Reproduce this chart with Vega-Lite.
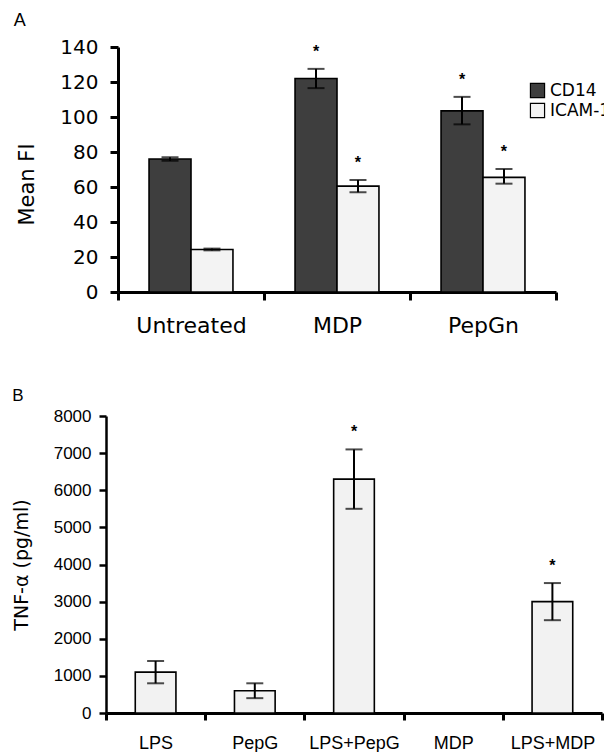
{
  "$schema": "https://vega.github.io/schema/vega-lite/v6.json",
  "padding": {"left": 12, "top": 12, "right": 0, "bottom": 0},
  "spacing": 51,
  "config": {
    "view": {"stroke": null},
    "axis": {"domainColor": "black", "tickColor": "black", "labelColor": "black", "titleColor": "black", "grid": false, "labelOverlap": false},
    "axisY": {"labelOverlap": false},
    "axisQuantitative": {"labelOverlap": false}
  },
  "vconcat": [
    {
      "title": {"text": "A", "anchor": "start", "frame": "bounds", "fontSize": 18, "font": "Liberation Sans", "fontWeight": "normal", "offset": 7, "dx": -3},
      "width": 450,
      "height": 245,
      "data": {"values": [
        {"treatment": "Untreated", "marker": "CD14", "value": 76, "lo": 75, "hi": 77, "star": ""},
        {"treatment": "Untreated", "marker": "ICAM-1", "value": 24.3, "lo": 23.8, "hi": 24.8, "star": ""},
        {"treatment": "MDP", "marker": "CD14", "value": 122, "lo": 116.5, "hi": 127.5, "star": "*"},
        {"treatment": "MDP", "marker": "ICAM-1", "value": 60.5, "lo": 57, "hi": 64, "star": "*"},
        {"treatment": "PepGn", "marker": "CD14", "value": 103.5, "lo": 95.8, "hi": 111.5, "star": "*"},
        {"treatment": "PepGn", "marker": "ICAM-1", "value": 65.5, "lo": 61.9, "hi": 70.3, "star": "*"}
      ]},
      "encoding": {
        "x": {"field": "treatment", "type": "nominal", "sort": ["Untreated", "MDP", "PepGn"],
          "scale": {"range": [12, 450], "paddingInner": 0, "paddingOuter": 0},
          "axis": {"title": null, "labelAngle": 0, "tickBand": "extent", "tickSize": 8, "tickWidth": 3, "domainWidth": 3,
            "labelFont": "DejaVu Sans", "labelFontSize": 22, "labelPadding": 15}},
        "xOffset": {"field": "marker", "type": "nominal", "sort": ["CD14", "ICAM-1"], "scale": {"paddingInner": 0, "paddingOuter": 0.74}}
      },
      "layer": [
        {
          "mark": {"type": "bar", "stroke": "black", "strokeWidth": 1.6},
          "encoding": {
            "y": {"field": "value", "type": "quantitative",
              "scale": {"domain": [0, 140], "nice": false},
              "axis": {"title": "Mean FI", "offset": -12, "values": [0, 20, 40, 60, 80, 100, 120, 140], "labelOverlap": false, "tickSize": 8, "tickWidth": 3, "domainWidth": 3,
                "labelFont": "DejaVu Sans", "labelFontSize": 20, "labelPadding": 12,
                "titleFont": "DejaVu Sans", "titleFontSize": 21, "titleFontWeight": "normal", "titlePadding": 22, "titleY": 137}},
            "color": {"field": "marker", "type": "nominal",
              "scale": {"domain": ["CD14", "ICAM-1"], "range": ["#3e3e3e", "#f3f3f3"]},
              "legend": {"title": null, "orient": "none", "legendX": 423, "legendY": 35, "padding": 0,
                "symbolType": "square", "symbolSize": 200, "symbolStrokeColor": "black", "symbolStrokeWidth": 1.2,
                "labelFont": "DejaVu Sans", "labelFontSize": 17, "labelColor": "black", "labelOffset": 4, "rowPadding": 1, "labelLimit": 0}}
          }
        },
        {
          "mark": {"type": "rule", "color": "black", "strokeWidth": 2},
          "encoding": {
            "y": {"field": "lo", "type": "quantitative",
              "axis": {"title": "Mean FI", "offset": -12, "values": [0, 20, 40, 60, 80, 100, 120, 140], "labelOverlap": false, "tickSize": 8, "tickWidth": 3, "domainWidth": 3,
                "labelFont": "DejaVu Sans", "labelFontSize": 20, "labelPadding": 12,
                "titleFont": "DejaVu Sans", "titleFontSize": 21, "titleFontWeight": "normal", "titlePadding": 22, "titleY": 137}},
            "y2": {"field": "hi"}}
        },
        {
          "mark": {"type": "tick", "color": "black", "thickness": 2, "size": 17},
          "encoding": {"y": {"field": "hi", "type": "quantitative",
              "axis": {"title": "Mean FI", "offset": -12, "values": [0, 20, 40, 60, 80, 100, 120, 140], "labelOverlap": false, "tickSize": 8, "tickWidth": 3, "domainWidth": 3,
                "labelFont": "DejaVu Sans", "labelFontSize": 20, "labelPadding": 12,
                "titleFont": "DejaVu Sans", "titleFontSize": 21, "titleFontWeight": "normal", "titlePadding": 22, "titleY": 137}}}
        },
        {
          "mark": {"type": "tick", "color": "black", "thickness": 2, "size": 17},
          "encoding": {"y": {"field": "lo", "type": "quantitative",
              "axis": {"title": "Mean FI", "offset": -12, "values": [0, 20, 40, 60, 80, 100, 120, 140], "labelOverlap": false, "tickSize": 8, "tickWidth": 3, "domainWidth": 3,
                "labelFont": "DejaVu Sans", "labelFontSize": 20, "labelPadding": 12,
                "titleFont": "DejaVu Sans", "titleFontSize": 21, "titleFontWeight": "normal", "titlePadding": 22, "titleY": 137}}}
        },
        {
          "mark": {"type": "text", "color": "black", "font": "Liberation Sans", "fontSize": 16, "fontWeight": "bold", "baseline": "alphabetic", "dy": -12},
          "encoding": {"y": {"field": "hi", "type": "quantitative",
              "axis": {"title": "Mean FI", "offset": -12, "values": [0, 20, 40, 60, 80, 100, 120, 140], "labelOverlap": false, "tickSize": 8, "tickWidth": 3, "domainWidth": 3,
                "labelFont": "DejaVu Sans", "labelFontSize": 20, "labelPadding": 12,
                "titleFont": "DejaVu Sans", "titleFontSize": 21, "titleFontWeight": "normal", "titlePadding": 22, "titleY": 137}},
            "text": {"field": "star"}}
        }
      ]
    },
    {
      "title": {"text": "B", "anchor": "start", "frame": "bounds", "fontSize": 17, "font": "Liberation Sans", "fontWeight": "normal", "offset": 2},
      "width": 496,
      "height": 297,
      "data": {"values": [
        {"treatment": "LPS", "value": 1100, "lo": 800, "hi": 1400, "star": ""},
        {"treatment": "PepG", "value": 600, "lo": 400, "hi": 800, "star": ""},
        {"treatment": "LPS+PepG", "value": 6300, "lo": 5500, "hi": 7100, "star": "*"},
        {"treatment": "MDP", "value": null, "lo": null, "hi": null, "star": ""},
        {"treatment": "LPS+MDP", "value": 3000, "lo": 2500, "hi": 3500, "star": "*"}
      ]},
      "encoding": {
        "x": {"field": "treatment", "type": "nominal", "sort": ["LPS", "PepG", "LPS+PepG", "MDP", "LPS+MDP"],
          "scale": {"domain": ["LPS", "PepG", "LPS+PepG", "MDP", "LPS+MDP"], "paddingInner": 0, "paddingOuter": 0},
          "axis": {"title": null, "labelAngle": 0, "tickBand": "extent", "tickSize": 7, "tickWidth": 3, "domainWidth": 3,
            "labelFont": "Liberation Sans", "labelFontSize": 18, "labelPadding": 14}}
      },
      "layer": [
        {
          "mark": {"type": "bar", "stroke": "black", "strokeWidth": 1.6, "fill": "#f2f2f2", "width": {"band": 0.41}},
          "encoding": {
            "y": {"field": "value", "type": "quantitative",
              "scale": {"domain": [0, 8000], "nice": false},
              "axis": {"title": "TNF-α (pg/ml)", "values": [0, 1000, 2000, 3000, 4000, 5000, 6000, 7000, 8000], "labelOverlap": false, "format": "d", "tickSize": 7, "tickWidth": 2.5, "domainWidth": 2.5,
                "labelFont": "Liberation Sans", "labelFontSize": 17, "labelPadding": 8,
                "titleFont": "DejaVu Sans", "titleFontSize": 19, "titleFontWeight": "normal", "titlePadding": 22}}
          }
        },
        {
          "mark": {"type": "rule", "color": "black", "strokeWidth": 2},
          "encoding": {
            "y": {"field": "lo", "type": "quantitative",
              "axis": {"title": "TNF-α (pg/ml)", "values": [0, 1000, 2000, 3000, 4000, 5000, 6000, 7000, 8000], "labelOverlap": false, "format": "d", "tickSize": 7, "tickWidth": 2.5, "domainWidth": 2.5,
                "labelFont": "Liberation Sans", "labelFontSize": 17, "labelPadding": 8,
                "titleFont": "DejaVu Sans", "titleFontSize": 19, "titleFontWeight": "normal", "titlePadding": 22}},
            "y2": {"field": "hi"}}
        },
        {
          "mark": {"type": "tick", "color": "black", "thickness": 2, "size": 17},
          "encoding": {"y": {"field": "hi", "type": "quantitative",
              "axis": {"title": "TNF-α (pg/ml)", "values": [0, 1000, 2000, 3000, 4000, 5000, 6000, 7000, 8000], "labelOverlap": false, "format": "d", "tickSize": 7, "tickWidth": 2.5, "domainWidth": 2.5,
                "labelFont": "Liberation Sans", "labelFontSize": 17, "labelPadding": 8,
                "titleFont": "DejaVu Sans", "titleFontSize": 19, "titleFontWeight": "normal", "titlePadding": 22}}}
        },
        {
          "mark": {"type": "tick", "color": "black", "thickness": 2, "size": 17},
          "encoding": {"y": {"field": "lo", "type": "quantitative",
              "axis": {"title": "TNF-α (pg/ml)", "values": [0, 1000, 2000, 3000, 4000, 5000, 6000, 7000, 8000], "labelOverlap": false, "format": "d", "tickSize": 7, "tickWidth": 2.5, "domainWidth": 2.5,
                "labelFont": "Liberation Sans", "labelFontSize": 17, "labelPadding": 8,
                "titleFont": "DejaVu Sans", "titleFontSize": 19, "titleFontWeight": "normal", "titlePadding": 22}}}
        },
        {
          "mark": {"type": "text", "color": "black", "font": "Liberation Sans", "fontSize": 16, "fontWeight": "bold", "baseline": "alphabetic", "dy": -12},
          "encoding": {"y": {"field": "hi", "type": "quantitative",
              "axis": {"title": "TNF-α (pg/ml)", "values": [0, 1000, 2000, 3000, 4000, 5000, 6000, 7000, 8000], "labelOverlap": false, "format": "d", "tickSize": 7, "tickWidth": 2.5, "domainWidth": 2.5,
                "labelFont": "Liberation Sans", "labelFontSize": 17, "labelPadding": 8,
                "titleFont": "DejaVu Sans", "titleFontSize": 19, "titleFontWeight": "normal", "titlePadding": 22}},
            "text": {"field": "star"}}
        }
      ]
    }
  ]
}
